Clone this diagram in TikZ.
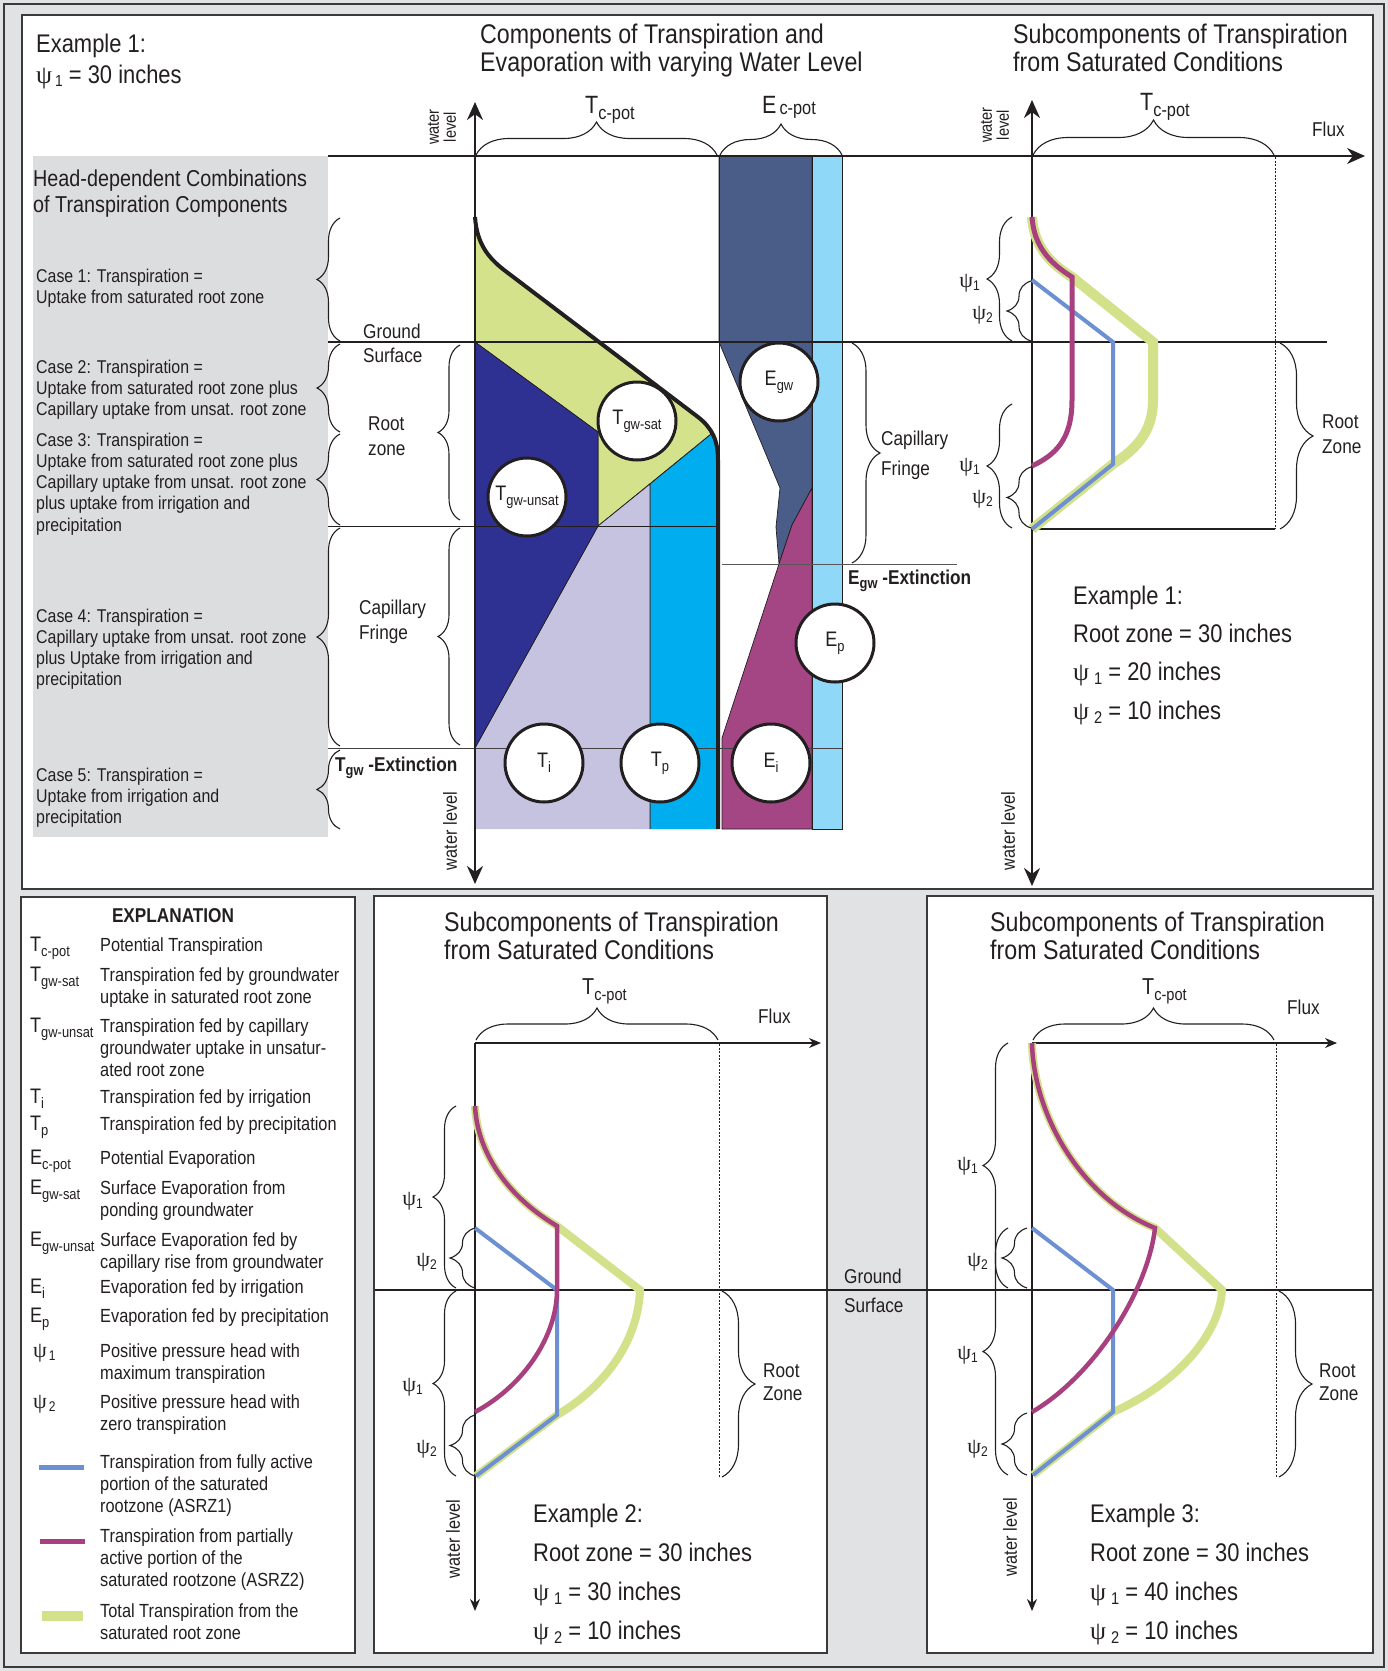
\documentclass[tikz,border=0pt]{standalone}
\usepackage{fontspec}
\setmainfont{Liberation Sans}[FakeStretch=0.86]
\newfontfamily\psifont{Liberation Serif}
\usetikzlibrary{decorations.pathreplacing,arrows.meta}
\definecolor{bggrey}{HTML}{E1E2E4}
\definecolor{boxgrey}{HTML}{DCDDDF}
\definecolor{frameC}{HTML}{3A3A3A}
\definecolor{inkC}{HTML}{231F20}
\definecolor{tgwsat}{HTML}{D4E38B}
\definecolor{tgwunsat}{HTML}{2E3192}
\definecolor{tiC}{HTML}{C5C3E0}
\definecolor{tpC}{HTML}{00AEEF}
\definecolor{egwC}{HTML}{4A5C88}
\definecolor{epC}{HTML}{8FD8F7}
\definecolor{eiC}{HTML}{A44584}
\definecolor{curveB}{HTML}{6D90D2}
\definecolor{curveM}{HTML}{A8407F}
\definecolor{curveG}{HTML}{D3E28A}
\newcommand\fs[2]{\fontsize{#1pt}{#2pt}\selectfont}
\newcommand\lo[3]{\raisebox{-#1pt}{\fontsize{#2pt}{#2pt}\selectfont #3}}
\newcommand\psy{{\psifont ψ}}
\newcommand\Tl[2]{{\fs{21}{21}#1}\lo{5}{15}{#2}}
\begin{document}
\begin{tikzpicture}[x=1pt,y=-1pt,
  txt/.style={inner sep=0pt, anchor=base west, align=left, text=inkC},
  brc/.style={decorate, decoration={brace, amplitude=#1}, line width=1.1pt, draw=inkC},
  bubble/.style={circle, draw=inkC, fill=white, line width=3pt, minimum size=78pt, inner sep=0pt, text=inkC},
  region/.style={draw=inkC, line width=0.7pt},
  panel/.style={draw=frameC, fill=white, line width=1.5pt},
  bigarrow/.style={-{Stealth[length=18pt,width=16pt]}},
  smallarrow/.style={-{Stealth[length=12pt,width=10pt]}},
  psil/.style={inner sep=0pt, anchor=base east, text=inkC, font=\fs{22}{22}},
  rotl/.style={inner sep=0pt, rotate=90, align=center, text=inkC}]
\useasboundingbox (0,0) rectangle (1388,1671);
\fill[bggrey] (0,0) rectangle (1388,1671);
\draw[frameC, line width=1.5pt] (4,4) rectangle (1384,1667);
% panels
\draw[panel] (22,15) rectangle (1373,889);
\draw[panel] (21,897) rectangle (355,1653);
\draw[panel] (374,896) rectangle (827,1653);
\draw[panel] (927,896) rectangle (1373,1653);
\fill[boxgrey] (33,156) rectangle (328,837);

% ===== middle chart fills =====
\begin{scope}
\clip (475,217) .. controls (477,245) and (489,259) .. (508,273) -- (698,417) .. controls (712,428) and (718,440) .. (718,460) -- (718,829) -- (475,829) -- cycle;
\filldraw[region, fill=tgwsat] (475,190) -- (770,190) -- (770,386) -- (598,526) -- (598,432) -- (475,342) -- cycle;
\filldraw[region, fill=tpC] (650,484) -- (770,386) -- (770,840) -- (650,840) -- cycle;
\filldraw[region, fill=tiC] (475,748) -- (598,526) -- (650,484) -- (650,840) -- (475,840) -- cycle;
\filldraw[region, fill=tgwunsat] (475,342) -- (598,432) -- (598,526) -- (475,748) -- cycle;
\end{scope}
\filldraw[region, fill=egwC] (719,156) -- (812,156) -- (812,488) -- (792,525) -- (779,564) -- (776,527) -- (780,488) -- (760,440) -- (719,342) -- cycle;
\filldraw[region, fill=eiC] (722,738) -- (779,564) -- (792,525) -- (812,488) -- (812,829) -- (722,829) -- cycle;
\filldraw[region, fill=epC] (812,156) rectangle (842,829);
\draw[inkC, line width=0.7pt] (719,156) -- (719,829);

% horizontal lines
\draw[inkC, line width=1pt] (328,526) -- (718,526);
\draw[inkC!85, line width=1pt] (328,748) -- (842,748);
\draw[inkC!75, line width=1pt] (722,564) -- (957,564);
\draw[inkC, line width=2pt] (328,342) -- (1327,342);
\coordinate (flux0) at (328,156);
\coordinate (flux1) at (1365,156);
\draw[inkC, line width=2pt, bigarrow] (flux0) -- (flux1);
\draw[inkC, line width=2pt] (1032,529) -- (1275,529);

% thick Tc-pot curve
\draw[inkC, line width=4pt] (475,217) .. controls (477,245) and (489,259) .. (508,273) -- (698,417) .. controls (712,428) and (718,440) .. (718,460) -- (718,829);

% axes top
\coordinate (a1t) at (475,102);
\coordinate (a1b) at (475,884);
\draw[inkC, line width=2pt, {Stealth[length=18pt,width=16pt]}-{Stealth[length=18pt,width=16pt]}] (a1b) -- (a1t);
\coordinate (a2t) at (1032,100);
\coordinate (a2b) at (1032,886);
\draw[inkC, line width=2pt, {Stealth[length=18pt,width=16pt]}-{Stealth[length=18pt,width=16pt]}] (a2b) -- (a2t);
\draw[inkC, line width=0.8pt, dash pattern=on 2pt off 1.5pt] (1275,157) -- (1275,529);

% circles
\node[bubble] (cTgwsat) at (637,421) {\Tl{T}{gw-sat}};
\node[bubble] (cEgw) at (779,382) {\Tl{E}{gw}};
\node[bubble] (cTgwunsat) at (527,497) {\Tl{T}{gw-unsat}};
\node[bubble] (cTi) at (544,763) {\Tl{T}{i}};
\node[bubble] (cTp) at (660,763) {\Tl{T}{p}};
\node[bubble] (cEi) at (771,763) {\Tl{E}{i}};
\node[bubble] (cEp) at (835,643) {\Tl{E}{p}};

% right chart curves (Example 1)
\draw[curveG, line width=10pt] (1032,217) .. controls (1034,245) and (1048,262) .. (1072,277) -- (1153,342) -- (1153,400) .. controls (1153,430) and (1138,448) .. (1113,464) -- (1032,529);
\draw[curveB, line width=4pt] (1032,280) -- (1113,342) -- (1113,464) -- (1032,529);
\draw[curveM, line width=5pt] (1032,217) .. controls (1034,245) and (1048,262) .. (1072,277) -- (1072,400) .. controls (1072,440) and (1055,455) .. (1032,466);

% braces: cases
\draw[brc=23pt] (340,341) -- (340,218);
\draw[brc=23pt] (340,432) -- (340,344);
\draw[brc=23pt] (340,525) -- (340,434);
\draw[brc=23pt] (340,746) -- (340,528);
\draw[brc=23pt] (340,829) -- (340,750);
\draw[brc=22pt] (460,520) -- (460,345);
\draw[brc=22pt] (460,745) -- (460,528);
\draw[brc=28pt] (852,343) -- (852,563);
\draw[brc=33pt] (476,155) -- (717,155);
\draw[brc=31pt] (720,155) -- (842,155);
\draw[brc=35pt] (1033,155) -- (1274,155);
\draw[brc=33pt] (1280,343) -- (1280,529);
% psi braces ex1
\draw[brc=25pt] (1012,341) -- (1012,217);
\draw[brc=24pt] (1031,341) -- (1031,281);
\draw[brc=25pt] (1012,528) -- (1012,404);
\draw[brc=24pt] (1031,528) -- (1031,467);

% ===== texts top panel (anchor = baseline of last line) =====
\node[txt, font=\fs{25.5}{31}] (ex1a) at (36,83) {Example 1:\\\psy\hspace{3pt}\lo{3}{16}{1} = 30 inches};
\node[txt, font=\fs{27}{28}] (title1) at (480,71) {Components of Transpiration and\\Evaporation with varying Water Level};
\node[txt, font=\fs{27}{28}] (title2) at (1013,71) {Subcomponents of Transpiration\\from Saturated Conditions};
\node[txt, font=\fs{23}{26}] (head) at (33,212) {Head-dependent Combinations\\of Transpiration Components};
\node[txt, font=\fs{18.5}{21.3}] (case1) at (36,303.3) {Case 1: Transpiration =\\Uptake from saturated root zone};
\node[txt, font=\fs{18.5}{21.3}] (case2) at (36,415.6) {Case 2: Transpiration =\\Uptake from saturated root zone plus\\Capillary uptake from unsat. root zone};
\node[txt, font=\fs{18.5}{21.3}] (case3) at (36,531.2) {Case 3: Transpiration =\\Uptake from saturated root zone plus\\Capillary uptake from unsat. root zone\\plus uptake from irrigation and\\precipitation};
\node[txt, font=\fs{18.5}{21.3}] (case4) at (36,685.9) {Case 4: Transpiration =\\Capillary uptake from unsat. root zone\\plus Uptake from irrigation and\\precipitation};
\node[txt, font=\fs{18.5}{21.3}] (case5) at (36,823.6) {Case 5: Transpiration =\\Uptake from irrigation and\\precipitation};
\node[txt, font=\fs{20}{24}] (ground1) at (363,362) {Ground\\Surface};
\node[txt, font=\fs{20}{25}] (root1) at (368,455) {Root\\zone};
\node[txt, font=\fs{20}{25}] (cap1) at (359,639) {Capillary\\Fringe};
\node[txt, font=\fs{20}{30}] (cap2) at (881,475) {Capillary\\Fringe};
\node[txt, font=\bfseries\fs{20}{20}] (tgwext) at (335,771) {T\lo{4}{15}{gw} -Extinction};
\node[txt, font=\bfseries\fs{20}{20}] (egwext) at (848,584) {E\lo{4}{15}{gw} -Extinction};
\node[txt, font=\fs{25}{25}] (tcpot1) at (585,113) {T\lo{6}{19}{c-pot}};
\node[txt, font=\fs{25}{25}] (ecpot1) at (762,113) {E\hspace{3pt}\lo{1}{19}{c-pot}};
\node[txt, font=\fs{25}{25}] (tcpot2) at (1140,110) {T\lo{6}{19}{c-pot}};
\node[txt, font=\fs{20}{20}] (flux1l) at (1312,136) {Flux};
\node[txt, font=\fs{20}{25}] (rz1) at (1322,453) {Root\\Zone};
\node[rotl, font=\fs{17}{17}] (wl1) at (442,127) {water\\level};
\node[rotl, font=\fs{17}{17}] (wl2) at (995,125) {water\\level};
\node[rotl, font=\fs{19}{19}] (wl3) at (450,831) {water level};
\node[rotl, font=\fs{19}{19}] (wl4) at (1008,831) {water level};
\node[psil] (p1a) at (980,287) {\psy\lo{3}{14}{1}};
\node[psil] (p2a) at (993,319) {\psy\lo{3}{14}{2}};
\node[psil] (p1b) at (980,471) {\psy\lo{3}{14}{1}};
\node[psil] (p2b) at (993,503) {\psy\lo{3}{14}{2}};
\node[txt, font=\fs{25.5}{38.3}] (ex1b) at (1073,719) {Example 1:\\Root zone = 30 inches\\\psy\hspace{5pt}\lo{4}{17}{1} = 20 inches\\\psy\hspace{5pt}\lo{4}{17}{2} = 10 inches};

% ===== explanation =====
\node[inner sep=0pt, anchor=base, text=inkC, font=\bfseries\fs{20}{20}] (expl) at (173,922) {EXPLANATION};
\node[txt] (s1) at (30,951) {\Tl{T}{c-pot}};
\node[txt] (s2) at (30,981) {\Tl{T}{gw-sat}};
\node[txt] (s3) at (30,1032) {\Tl{T}{gw-unsat}};
\node[txt] (s4) at (30,1103) {\Tl{T}{i}};
\node[txt] (s5) at (30,1130) {\Tl{T}{p}};
\node[txt] (s6) at (30,1164) {\Tl{E}{c-pot}};
\node[txt] (s7) at (30,1194) {\Tl{E}{gw-sat}};
\node[txt] (s8) at (30,1246) {\Tl{E}{gw-unsat}};
\node[txt] (s9) at (30,1293) {\Tl{E}{i}};
\node[txt] (s10) at (30,1322) {\Tl{E}{p}};
\node[txt, font=\fs{22}{22}] (s11) at (33,1357) {\psy\hspace{2pt}\lo{3}{14}{1}};
\node[txt, font=\fs{22}{22}] (s12) at (33,1408) {\psy\hspace{2pt}\lo{3}{14}{2}};
\begin{scope}[every node/.style={txt, font=\fs{19}{22}}]
\node (d1) at (100,951) {Potential Transpiration};
\node (d2) at (100,1003) {Transpiration fed by groundwater\\uptake in saturated root zone};
\node (d3) at (100,1076) {Transpiration fed by capillary\\groundwater uptake in unsatur-\\ated root zone};
\node (d4) at (100,1103) {Transpiration fed by irrigation};
\node (d5) at (100,1130) {Transpiration fed by precipitation};
\node (d6) at (100,1164) {Potential Evaporation};
\node (d7) at (100,1216) {Surface Evaporation from\\ponding groundwater};
\node (d8) at (100,1268) {Surface Evaporation fed by\\capillary rise from groundwater};
\node (d9) at (100,1293) {Evaporation fed by irrigation};
\node (d10) at (100,1322) {Evaporation fed by precipitation};
\node (d11) at (100,1379) {Positive pressure head with\\maximum transpiration};
\node (d12) at (100,1430) {Positive pressure head with\\zero transpiration};
\node (d13) at (100,1512) {Transpiration from fully active\\portion of the saturated\\rootzone (ASRZ1)};
\node (d14) at (100,1586) {Transpiration from partially\\active portion of the\\saturated rootzone (ASRZ2)};
\node (d15) at (100,1639) {Total Transpiration from the\\saturated root zone};
\end{scope}
\draw[curveB, line width=5pt] (39,1467) -- (84,1467);
\draw[curveM, line width=5pt] (40,1541) -- (85,1541);
\draw[curveG, line width=10pt] (42,1616) -- (83,1616);

% ===== bottom charts =====
\draw[inkC, line width=1.8pt] (375,1290) -- (1372,1290);
% ex2
\coordinate (b2o) at (475,1043);
\coordinate (b2x) at (821,1043);
\coordinate (b2y) at (475,1611);
\draw[inkC, line width=1.3pt, smallarrow] (b2o) -- (b2x);
\draw[inkC, line width=1.3pt, smallarrow] (b2o) -- (b2y);
\draw[inkC, line width=0.8pt, dash pattern=on 2pt off 1.5pt] (719,1044) -- (719,1477);
\draw[curveG, line width=8pt] (475,1106) .. controls (477,1150) and (505,1195) .. (557,1226) -- (640,1290) .. controls (638,1345) and (600,1390) .. (557,1415) -- (476,1476);
\draw[curveB, line width=4pt] (475,1228) -- (557,1290) -- (557,1415) -- (476,1476);
\draw[curveM, line width=4.5pt] (475,1106) .. controls (477,1150) and (505,1195) .. (557,1226) -- (557,1290) .. controls (557,1335) and (525,1385) .. (475,1412);
\draw[brc=32pt] (476,1040) -- (718,1040);
\draw[brc=33pt] (722,1291) -- (722,1477);
\draw[brc=23pt] (456,1288) -- (456,1106);
\draw[brc=25pt] (475,1288) -- (475,1228);
\draw[brc=23pt] (456,1476) -- (456,1291);
\draw[brc=25pt] (475,1476) -- (475,1415);
% ex3
\coordinate (b3o) at (1032,1043);
\coordinate (b3x) at (1337,1043);
\coordinate (b3y) at (1032,1611);
\draw[inkC, line width=1.3pt, smallarrow] (b3o) -- (b3x);
\draw[inkC, line width=1.3pt, smallarrow] (b3o) -- (b3y);
\draw[inkC, line width=0.8pt, dash pattern=on 2pt off 1.5pt] (1276,1044) -- (1276,1477);
\draw[curveG, line width=8pt] (1032,1043) .. controls (1034,1120) and (1085,1200) .. (1155,1228) -- (1222,1290) .. controls (1220,1335) and (1175,1385) .. (1113,1412) -- (1033,1475);
\draw[curveB, line width=4pt] (1032,1228) -- (1113,1290) -- (1113,1412) -- (1033,1475);
\draw[curveM, line width=4.5pt] (1032,1043) .. controls (1034,1120) and (1085,1200) .. (1155,1228) .. controls (1148,1290) and (1095,1375) .. (1032,1412);
\draw[brc=32pt] (1033,1040) -- (1274,1040);
\draw[brc=33pt] (1279,1291) -- (1279,1477);
\draw[brc=25pt] (1008,1288) -- (1008,1043);
\draw[brc=25pt] (1027,1288) -- (1027,1228);
\draw[brc=25pt] (1008,1475) -- (1008,1228);
\draw[brc=25pt] (1027,1475) -- (1027,1413);

\node[txt, font=\fs{27}{28}] (title3) at (444,959) {Subcomponents of Transpiration\\from Saturated Conditions};
\node[txt, font=\fs{27}{28}] (title4) at (990,959) {Subcomponents of Transpiration\\from Saturated Conditions};
\node[txt, font=\fs{23}{23}] (tcpot3) at (582,994) {T\lo{6}{17}{c-pot}};
\node[txt, font=\fs{23}{23}] (tcpot4) at (1142,994) {T\lo{6}{17}{c-pot}};
\node[txt, font=\fs{20}{20}] (flux2l) at (758,1023) {Flux};
\node[txt, font=\fs{20}{20}] (flux3l) at (1287,1014) {Flux};
\node[txt, font=\fs{20}{23}] (rz2) at (763,1400) {Root\\Zone};
\node[txt, font=\fs{20}{23}] (rz3) at (1319,1400) {Root\\Zone};
\node[txt, font=\fs{20}{29}] (gs2) at (844,1312) {Ground\\Surface};
\node[rotl, font=\fs{19}{19}] (wl5) at (453,1539) {water level};
\node[rotl, font=\fs{19}{19}] (wl6) at (1010,1537) {water level};
\node[psil] (q1a) at (423,1205) {\psy\lo{3}{14}{1}};
\node[psil] (q2a) at (437,1266) {\psy\lo{3}{14}{2}};
\node[psil] (q1b) at (423,1391) {\psy\lo{3}{14}{1}};
\node[psil] (q2b) at (437,1453) {\psy\lo{3}{14}{2}};
\node[psil] (r1a) at (978,1170) {\psy\lo{3}{14}{1}};
\node[psil] (r2a) at (988,1266) {\psy\lo{3}{14}{2}};
\node[psil] (r1b) at (978,1359) {\psy\lo{3}{14}{1}};
\node[psil] (r2b) at (988,1453) {\psy\lo{3}{14}{2}};
\node[txt, font=\fs{25.5}{38.7}] (ex2) at (533,1639) {Example 2:\\Root zone = 30 inches\\\psy\hspace{5pt}\lo{4}{17}{1} = 30 inches\\\psy\hspace{5pt}\lo{4}{17}{2} = 10 inches};
\node[txt, font=\fs{25.5}{38.7}] (ex3) at (1090,1639) {Example 3:\\Root zone = 30 inches\\\psy\hspace{5pt}\lo{4}{17}{1} = 40 inches\\\psy\hspace{5pt}\lo{4}{17}{2} = 10 inches};
\end{tikzpicture}
\end{document}
